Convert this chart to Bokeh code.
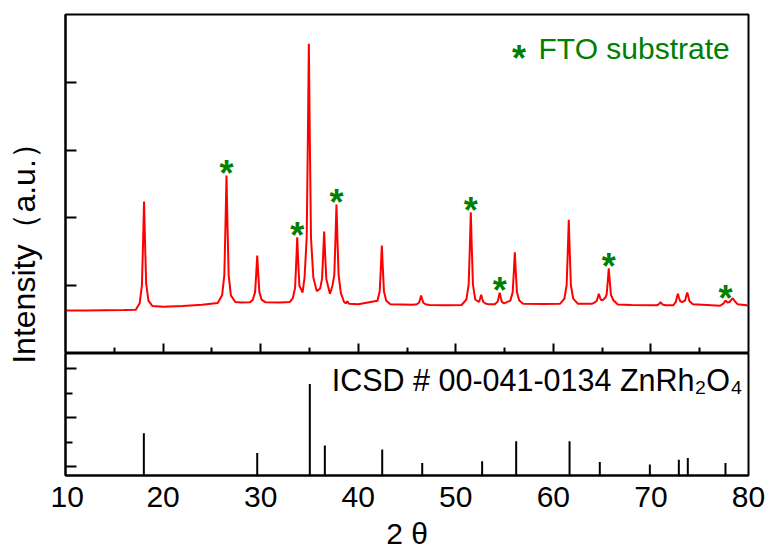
import math
from bokeh.plotting import figure
from bokeh.layouts import row, column
from bokeh.models import Range1d, Label, FixedTicker, LinearAxis
from bokeh.core.properties import value
from bokeh.embed import file_html
from bokeh.resources import INLINE

# ---- data ----
two_theta = [10.0, 12.0, 14.0, 16.0, 17.2,
             17.6, 17.83, 17.95, 18.05, 18.15, 18.27, 18.5, 18.9,
             20.0, 22.0, 24.0, 25.6,
             26.05, 26.28, 26.4, 26.5, 26.6, 26.72, 26.95, 27.4,
             28.0, 28.9,
             29.2, 29.43, 29.55, 29.65, 29.75, 29.87, 30.1, 30.5,
             32.0, 33.0,
             33.3, 33.53, 33.65, 33.75, 33.85, 33.97,
             34.3,
             34.5, 34.72, 34.84, 34.94, 35.04, 35.16, 35.4,
             35.75,
             36.1, 36.29, 36.41, 36.51, 36.61, 36.73,
             37.1,
             37.36, 37.55, 37.67, 37.77, 37.87, 37.99, 38.22, 38.55,
             38.72, 38.87, 39.05,
             40.0,
             41.97, 42.2, 42.32, 42.42, 42.52, 42.64, 42.87, 43.3,
             45.6,
             46.0, 46.23, 46.35, 46.45, 46.55, 46.67, 46.9, 47.3,
             49.0, 50.6,
             51.09, 51.32, 51.44, 51.54, 51.64, 51.76, 51.99,
             52.38, 52.5, 52.6, 52.7, 52.82, 53.05, 53.4,
             54.0,
             54.05, 54.28, 54.4, 54.5, 54.6, 54.72, 54.95,
             55.6, 55.83, 55.95, 56.05, 56.15, 56.27, 56.5, 56.9,
             59.0, 60.7,
             61.13, 61.36, 61.48, 61.58, 61.68, 61.8, 62.03, 62.5,
             64.0,
             64.2, 64.44, 64.56, 64.66, 64.76, 64.88, 65.1,
             65.35, 65.46, 65.58, 65.68, 65.78, 65.9, 66.13, 66.6,
             68.0, 70.6,
             70.8, 70.98, 71.2, 71.5,
             72.3,
             72.55, 72.66, 72.76, 72.86, 73.0, 73.2,
             73.5, 73.62, 73.72, 73.82, 73.95, 74.3,
             77.1,
             77.45, 77.64, 77.85, 78.05,
             78.2, 78.39, 78.6, 78.9,
             80.0]
intensity = [634, 636, 638, 640, 645,
             740, 1000, 1640, 2242, 1640, 1030, 780, 700,
             690, 700, 720, 745,
             858, 1160, 1911, 2626, 1911, 1160, 858, 760,
             752, 755,
             794, 905, 1182, 1446, 1182, 905, 794, 755,
             752, 760,
             817, 970, 1352, 1715, 1352, 1000,
             900,
             1120, 1707, 3170, 4568, 3170, 1707, 1120,
             920,
             960, 1100, 1460, 1800, 1460, 1100,
             880,
             1000, 1160, 1690, 2198, 1690, 1160, 890, 760,
             740, 770, 735,
             725,
             777, 916, 1263, 1593, 1263, 916, 777, 725,
             718,
             726, 748, 804, 856, 804, 748, 726, 716,
             712, 715,
             797, 1016, 1564, 2084, 1564, 1016, 797,
             760, 814, 866, 814, 760, 738, 725,
             725,
             735, 762, 830, 895, 830, 762, 740,
             781, 902, 1206, 1494, 1206, 902, 781, 735,
             730, 735,
             809, 1007, 1502, 1972, 1502, 1007, 809, 735,
             735,
             750, 775, 830, 881, 830, 790, 790,
             830, 870, 1069, 1258, 1069, 870, 790, 722,
             715, 712,
             725, 757, 722, 712,
             712,
             760, 830, 881, 830, 770, 760,
             780, 850, 900, 850, 770, 725,
             705,
             740, 782, 750, 760,
             785, 816, 770, 725,
             708]

# FTO substrate reflections (marked with *)
fto_peaks = [26.5, 33.75, 37.77, 51.54, 54.5, 65.68, 77.64]
fto_tops = [2626, 1715, 2198, 2084, 895, 1258, 782]

# ICSD # 00-041-0134 ZnRh2O4 reference sticks
ref_pos = [18.03, 29.65, 35.04, 36.58, 42.46, 46.56, 52.7, 56.19, 61.66, 64.76, 69.89, 72.86, 73.78, 77.64]
ref_int = [34, 14, 84.4, 21.6, 17.5, 3.7, 5.5, 26, 26, 4.7, 2.1, 7.2, 8.8, 3.7]

x_ticks = [10, 20, 30, 40, 50, 60, 70, 80]
x_major_marks = [20, 30, 40, 50, 60, 70]
x_minor_marks = [15, 25, 35, 45, 55, 65, 75]
top_y_marks = [1000, 2000, 3000, 4000]
bot_y_major_marks = [0, 50, 100]
bot_y_minor_marks = [25, 75]

FONT = "Liberation Sans"
GREEN = "#008000"
LEFT_W = 50
REF_BASE = -9


def tick_only(axis, marks, length, line=True):
    axis.ticker = FixedTicker(ticks=[], minor_ticks=marks)
    axis.major_tick_in = 0
    axis.major_tick_out = 0
    axis.minor_tick_in = length
    axis.minor_tick_out = 0
    axis.minor_tick_line_width = 2
    axis.minor_tick_line_color = "black"
    axis.major_label_standoff = 0
    axis.axis_line_width = 2
    if not line:
        axis.axis_line_color = None


# ---- top panel ----
top = figure(frame_width=683, frame_height=339, x_range=Range1d(10, 80), y_range=Range1d(0, 5000),
             output_backend="svg", toolbar_location=None,
             min_border_left=15, min_border_right=19, min_border_top=14, min_border_bottom=0)
top.grid.visible = False
top.outline_line_color = "black"
top.outline_line_width = 2
top.line(two_theta, intensity, line_color="#ff0000", line_width=2)
top.text(x=fto_peaks, y=fto_tops, text=["*"] * len(fto_peaks), text_font=value(FONT),
         text_font_size="36px", text_font_style="bold", text_color=GREEN, text_align="center",
         text_baseline="alphabetic", y_offset=-2)

tick_only(top.xaxis[0], x_major_marks, 10)
ax2 = LinearAxis()
tick_only(ax2, x_minor_marks, 6, line=False)
top.add_layout(ax2, "below")
tick_only(top.yaxis[0], top_y_marks, 11)

top.add_layout(Label(x=56.48, y=4350, text="*", text_font=FONT, text_font_size="36px",
                     text_font_style="bold", text_color=GREEN, text_align="center",
                     text_baseline="alphabetic"))
top.add_layout(Label(x=58.48, y=4499, text="FTO substrate", text_font=FONT, text_font_size="30px",
                     text_color=GREEN, text_align="left", text_baseline="alphabetic"))

# ---- bottom panel ----
bot = figure(frame_width=683, height=199, x_range=top.x_range, y_range=Range1d(REF_BASE, 115.5),
             output_backend="svg", toolbar_location=None,
             min_border_left=15, min_border_right=19, min_border_top=0, min_border_bottom=0)
bot.grid.visible = False
bot.outline_line_color = "black"
bot.outline_line_width = 2
bot.segment(x0=ref_pos, y0=[REF_BASE] * len(ref_pos), x1=ref_pos, y1=ref_int,
            line_color="black", line_width=2)

bx = bot.xaxis[0]
bx.ticker = FixedTicker(ticks=x_ticks)
bx.major_tick_in = 0
bx.major_tick_out = 0
bx.minor_tick_in = 0
bx.minor_tick_out = 0
bx.major_label_text_font = FONT
bx.major_label_text_font_size = "30px"
bx.major_label_text_color = "black"
bx.major_label_standoff = 11
bx.axis_label = "2 θ"
bx.axis_label_text_font = FONT
bx.axis_label_text_font_size = "30px"
bx.axis_label_text_font_style = "normal"
bx.axis_label_text_color = "black"
bx.axis_label_standoff = 7
bx.axis_line_width = 2

tick_only(bot.yaxis[0], bot_y_major_marks, 11)
ay2 = LinearAxis()
tick_only(ay2, bot_y_minor_marks, 7, line=False)
bot.add_layout(ay2, "left")

bot.add_layout(Label(x=80, y=88.8, x_offset=-6, text="ICSD # 00-041-0134 ZnRh₂O₄", text_font=FONT,
                     text_font_size="30.5px", text_color="black", text_align="right",
                     text_baseline="alphabetic"))

# ---- y label column ----
lab = figure(width=LEFT_W, height=552, x_range=Range1d(0, LEFT_W), y_range=Range1d(0, 552),
             output_backend="svg", toolbar_location=None, x_axis_type=None, y_axis_type=None,
             min_border=0)
lab.outline_line_color = None
lab.grid.visible = False
lab.add_layout(Label(x=23, y=552 - 245, text="Intensity（a.u.）", text_font=FONT, text_font_size="32px",
                     text_color="black", angle=math.pi / 2, text_align="center",
                     text_baseline="alphabetic"))

layout = row(lab, column(top, bot))
open("out.html", "w").write(file_html(layout, INLINE))
